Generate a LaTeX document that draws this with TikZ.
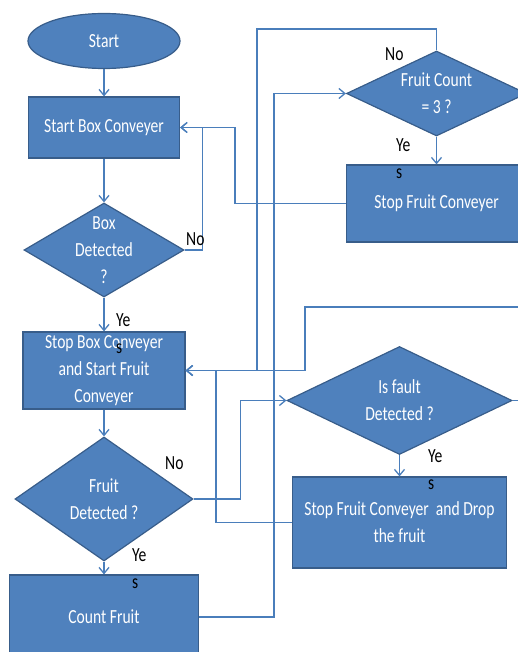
\documentclass[tikz,border=0pt]{standalone}
\usepackage{fontspec}
\setmainfont{Carlito}[FakeStretch=0.78]
\usepackage{xcolor}
\definecolor{boxblue}{RGB}{79, 129, 189}
\definecolor{edgeblue}{RGB}{56, 93, 138}
\definecolor{lineblue}{RGB}{74, 126, 187}
\usepackage{tikz}
\usetikzlibrary{
    shapes.geometric,
    arrows.meta,
    positioning
}
\tikzstyle{startstop} = [
    ellipse,
    draw=edgeblue,
    fill=boxblue,
    line width=1.2pt,
    text=white,
    minimum width=152pt,
    minimum height=55pt
]
\tikzstyle{box} = [
    rectangle,
    draw=edgeblue,
    fill=boxblue,
    line width=1.2pt,
    text=white,
    text centered,
    align=center,
    inner sep=0pt
]
\tikzstyle{decision} = [
    diamond,
    aspect=2,
    draw=edgeblue,
    fill=boxblue,
    line width=1.2pt,
    text=white,
    text centered,
    align=center,
    inner sep=-20pt
]
\tikzstyle{lbl} = [
    text=black,
    inner sep=0pt,
    anchor=north west,
    align=left
]
\tikzstyle{arrow} = [
    draw=lineblue,
    line width=1.3pt,
    -{Straight Barb[length=6pt,width=10pt]}
]

\begin{document}
\begin{tikzpicture}[
    x=1pt, y=-1pt,
    on grid,
    every node/.style={font=\fontsize{20}{27}\selectfont}
]
\useasboundingbox (0,0) rectangle (518,652);
\clip (0,0) rectangle (518,652);

% left column
\node (start) [startstop] at (104,41) {Start};
\node (sbc) [box, minimum width=151pt, minimum height=61pt, below=86.5pt of start]
    {Start Box Conveyer};
\node (boxdet) [decision, minimum width=160pt, minimum height=94pt, below=122.5pt of sbc]
    {Box\\Detected\\?};
\node (sbox) [box, minimum width=162pt, minimum height=77pt, below=120.5pt of boxdet]
    {Stop Box Conveyer\\and Start Fruit\\Conveyer};
\node (fruitdet) [decision, minimum width=178pt, minimum height=124pt, below=128.5pt of sbox]
    {Fruit\\Detected ?};
\node (count) [box, minimum width=189pt, minimum height=84pt, below=118pt of fruitdet]
    {Count Fruit};

% right column
\node (fcount) [decision, minimum width=180pt, minimum height=85pt] at (436.5,93.5)
    {Fruit Count\\= 3 ?};
\node (sfc) [box, minimum width=180pt, minimum height=77pt, below=110pt of fcount]
    {Stop Fruit Conveyer};
\node (fault) [decision, minimum width=225pt, minimum height=108pt] at (399.5,400.5)
    {Is fault\\Detected ?};
\node (drop) [box, minimum width=214pt, minimum height=91pt, below=122pt of fault]
    {Stop Fruit Conveyer~ and Drop\\the fruit};

\coordinate (toploop) at (257,29);
\coordinate (faultloop) at (305,307);

\draw [arrow] (start) -- (sbc);
\draw [arrow] (sbc) -- (boxdet);
\draw [arrow] (boxdet) -- (sbox);
\draw [arrow] (sbox) -- (fruitdet);
\draw [arrow] (fruitdet) -- (count);
\draw [arrow] (fcount) -- (sfc);
\draw [arrow] (fault) -- (drop);

% No branches
\draw [arrow] (boxdet.east) -- ++(18,0) |- (sbc.east);
\draw [arrow] (fruitdet.east) -- ++(47,0) |- (fault.west);
\draw [arrow] (fcount.north) |- (toploop) |- (sbox.east);
\draw [arrow] (fault.east) -- ++(30,0) |- (faultloop) |- (sbox.east);

% back to the loop
\draw [arrow] (count.east) -- ++(75,0) |- (fcount.west);
\draw [arrow] (sfc.west) -- ++(-111,0) |- (sbc.east);
\draw [arrow] (drop.west) -- ++(-76,0) |- (sbox.east);

% Yes / No labels
\node (no1) [lbl] at (186,232) {No};
\node (no2) [lbl] at (385,47) {No};
\node (no3) [lbl] at (165,456) {No};
\node (yes1) [lbl] at (116,313) {Ye\\s};
\node (yes2) [lbl] at (396,138) {Ye\\s};
\node (yes3) [lbl] at (132,548) {Ye\\s};
\node (yes4) [lbl] at (428,449) {Ye\\s};

\end{tikzpicture}
\end{document}
